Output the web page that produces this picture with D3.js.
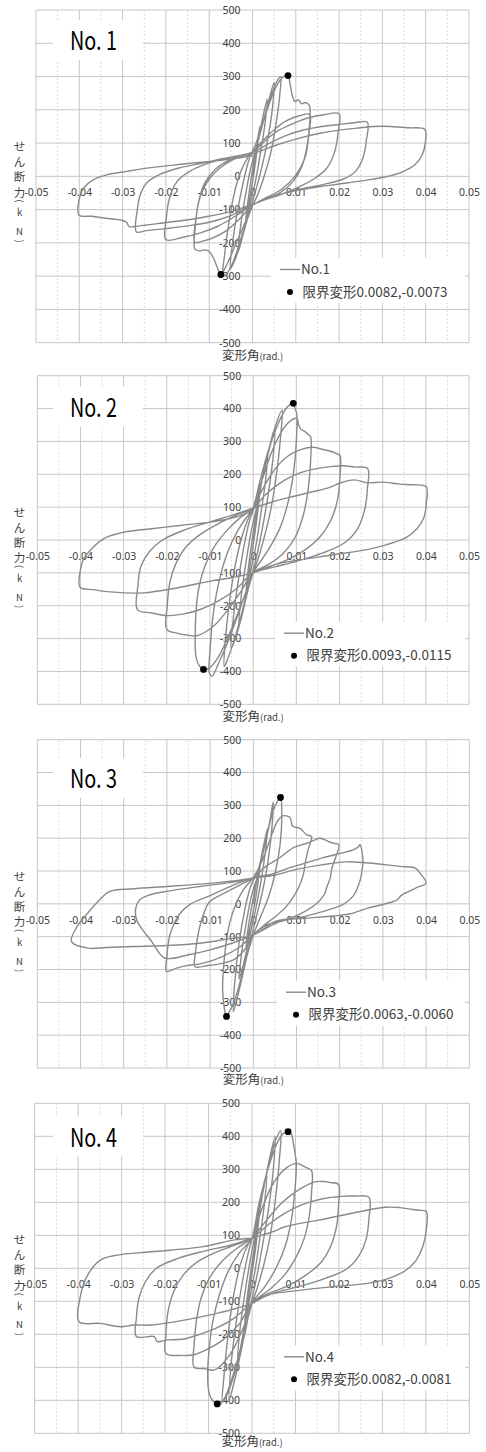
<!DOCTYPE html>
<html lang="ja">
<head>
<meta charset="utf-8">
<title>せん断力-変形角</title>
<script src="https://cdn.jsdelivr.net/npm/d3@7"></script>
<style>
  body { margin: 0; background: #fff; }
  svg { display: block; }
</style>
</head>
<body>
<script>
// axis ticks
const xTicks = [-0.05, -0.04, -0.03, -0.02, -0.01, 0, 0.01, 0.02, 0.03, 0.04, 0.05]
const xMinorTicks = [-0.045, -0.035, -0.025, -0.015, -0.005, 0.005, 0.015, 0.025, 0.035, 0.045]
const yTicks = [-500, -400, -300, -200, -100, 0, 100, 200, 300, 400, 500]

const names = ["No.1", "No.2", "No.3", "No.4"]
const titles = ["No. 1", "No. 2", "No. 3", "No. 4"]
const limitLabels = ["限界変形0.0082,-0.0073", "限界変形0.0093,-0.0115", "限界変形0.0063,-0.0060", "限界変形0.0082,-0.0081"]
const limitPoints = [
    [[0.0082, 303], [-0.0073, -295]],
    [[0.0093, 416], [-0.0115, -394]],
    [[0.0063, 324], [-0.0062, -343]],
    [[0.0083, 414], [-0.008, -411]]
]

// [変形角 rad, せん断力 kN]
const no1 = [
    [0,0],[0.0008,80],[0.0017,150],[0.0012,95],[0.0004,15],[-0.0006,-65],[-0.0017,-150],[-0.0012,-90],[-0.0004,-15],[0.0004,50],
    [0.0015,120],[0.0025,185],[0.0034,232],[0.0029,160],[0.0019,75],[0.0006,-20],[-0.0008,-95],[-0.0022,-175],[-0.0033,-228],[-0.0028,-155],[-0.0018,-70],[-0.0004,25],
    [0.001,90],[0.0025,165],[0.004,240],[0.005,282],[0.0046,205],[0.0035,110],[0.0022,30],[0.0008,-40],[-0.0008,-110],[-0.0025,-190],[-0.004,-250],[-0.0051,-278],[-0.0046,-200],[-0.0034,-100],[-0.002,-10],[-0.0008,50],
    [0.001,105],[0.0025,165],[0.004,228],[0.0055,282],[0.0065,300],[0.0063,245],[0.0054,155],[0.0042,70],[0.0028,5],[0.0012,-55],[0,-88],[-0.0015,-140],[-0.003,-200],[-0.0045,-258],[-0.006,-293],[-0.0068,-300],[-0.0064,-232],[-0.0054,-135],[-0.0041,-45],[-0.0026,18],[-0.001,58],[0,74],
    [0.0015,125],[0.003,185],[0.0045,240],[0.006,282],[0.0072,300],[0.0082,303],[0.0087,275],[0.0093,238],[0.0098,225],[0.0106,230],[0.0114,218],[0.0122,222],[0.0131,214],[0.0132,160],[0.0126,90],[0.0114,30],[0.0094,-15],[0.0065,-48],[0.0033,-68],[0,-88],[-0.002,-148],[-0.004,-208],[-0.0058,-262],[-0.0073,-295],[-0.0079,-282],[-0.0086,-258],[-0.0094,-236],[-0.0102,-224],[-0.0112,-221],[-0.0122,-224],[-0.0133,-219],[-0.0132,-150],[-0.0125,-80],[-0.0111,-22],[-0.0085,22],[-0.0055,48],[-0.0025,63],[0,74],
    [0.002,102],[0.005,140],[0.008,168],[0.0108,182],[0.0132,186],[0.013,125],[0.0121,55],[0.0098,0],[0.0068,-38],[0.0035,-62],[0,-87],[-0.003,-128],[-0.006,-163],[-0.009,-184],[-0.0113,-194],[-0.0133,-198],[-0.0131,-132],[-0.0121,-62],[-0.0098,-5],[-0.0065,35],[-0.0032,58],[0,72],
    [0.003,108],[0.006,138],[0.01,162],[0.013,176],[0.0165,185],[0.02,188],[0.0198,135],[0.019,75],[0.0172,25],[0.0145,-5],[0.011,-30],[0.0065,-55],[0.003,-70],[0,-86],[-0.004,-120],[-0.008,-150],[-0.012,-170],[-0.016,-183],[-0.02,-190],[-0.0199,-125],[-0.0191,-62],[-0.0174,-15],[-0.0145,15],[-0.0105,38],[-0.006,55],[-0.003,63],[0,72],
    [0.004,100],[0.008,124],[0.012,140],[0.016,150],[0.02,156],[0.0235,161],[0.0265,163],[0.0263,108],[0.0255,55],[0.0238,15],[0.021,-8],[0.0165,-24],[0.011,-38],[0.0055,-58],[0,-85],[-0.005,-118],[-0.01,-138],[-0.015,-149],[-0.02,-157],[-0.0245,-163],[-0.0268,-167],[-0.0266,-100],[-0.0258,-50],[-0.0243,-18],[-0.0215,5],[-0.017,25],[-0.0115,40],[-0.006,55],[0,68],
    [0.005,92],[0.01,112],[0.015,128],[0.02,139],[0.025,146],[0.028,150],[0.032,150],[0.036,146],[0.0398,141],[0.0399,100],[0.0392,65],[0.0375,35],[0.0345,13],[0.0305,-2],[0.026,-12],[0.02,-23],[0.015,-32],[0.01,-43],[0.005,-60],[0,-84],[-0.005,-106],[-0.011,-122],[-0.017,-134],[-0.022,-142],[-0.027,-150],[-0.0285,-151],[-0.0291,-138],[-0.031,-130],[-0.034,-126],[-0.037,-120],[-0.0401,-116],[-0.0399,-62],[-0.039,-35],[-0.037,-12],[-0.0335,5],[-0.029,15],[-0.023,27],[-0.016,37],[-0.01,45],[-0.005,52],[0,62]
]

const no2 = [
    [0,0],[0.0009,90],[0.0017,170],[0.0012,100],[0.0004,20],[-0.0006,-70],[-0.0017,-165],[-0.0012,-95],[-0.0004,-15],[0.0004,55],
    [0.0015,140],[0.0025,215],[0.0034,270],[0.0029,185],[0.0019,90],[0.0006,-20],[-0.0008,-110],[-0.0022,-200],[-0.0033,-260],[-0.0028,-175],[-0.0018,-80],[-0.0004,30],
    [0.001,110],[0.0025,210],[0.004,295],[0.005,340],[0.0046,250],[0.0035,140],[0.0022,40],[0.0008,-50],[-0.0008,-130],[-0.0025,-225],[-0.004,-295],[-0.0051,-330],[-0.0046,-240],[-0.0034,-120],[-0.002,-10],[-0.0008,60],
    [0.001,125],[0.0025,210],[0.004,290],[0.0055,360],[0.0067,396],[0.0064,320],[0.0055,210],[0.0042,100],[0.0028,20],[0.0012,-55],[0,-100],[-0.0015,-165],[-0.003,-240],[-0.0045,-310],[-0.006,-365],[-0.0067,-385],[-0.0064,-300],[-0.0055,-190],[-0.0042,-80],[-0.0026,10],[-0.001,70],[0,97],
    [0.0015,175],[0.003,250],[0.0045,310],[0.006,360],[0.0075,398],[0.0086,413],[0.0093,416],[0.0097,400],[0.0101,384],[0.01,300],[0.0093,200],[0.0078,100],[0.006,30],[0.0035,-30],[0.0012,-75],[0,-100],[-0.002,-170],[-0.004,-245],[-0.006,-315],[-0.008,-375],[-0.0095,-414],[-0.0101,-408],[-0.0099,-320],[-0.0092,-220],[-0.0078,-120],[-0.006,-40],[-0.0035,30],[-0.0012,75],[0,97],
    [0.002,180],[0.005,290],[0.008,355],[0.0101,370],[0.0105,352],[0.011,338],[0.012,330],[0.0127,322],[0.0133,315],[0.0133,240],[0.0128,160],[0.0117,80],[0.0098,10],[0.007,-40],[0.0035,-75],[0,-100],[-0.002,-170],[-0.005,-270],[-0.008,-355],[-0.0102,-390],[-0.0115,-394],[-0.0126,-380],[-0.0133,-350],[-0.0134,-280],[-0.0132,-210],[-0.0125,-140],[-0.0112,-80],[-0.009,-20],[-0.006,30],[-0.003,68],[0,97],
    [0.002,150],[0.005,215],[0.008,255],[0.011,275],[0.0141,282],[0.016,276],[0.018,270],[0.0195,262],[0.0201,258],[0.0201,190],[0.0195,120],[0.018,60],[0.0155,10],[0.012,-30],[0.008,-60],[0.004,-80],[0,-100],[-0.003,-160],[-0.006,-215],[-0.009,-260],[-0.0115,-283],[-0.0133,-292],[-0.015,-290],[-0.0175,-284],[-0.02,-272],[-0.0199,-200],[-0.0193,-130],[-0.018,-75],[-0.0158,-25],[-0.0125,15],[-0.008,50],[-0.004,75],[0,97],
    [0.003,140],[0.007,180],[0.011,205],[0.015,218],[0.0185,224],[0.021,226],[0.0235,222],[0.0265,218],[0.0265,160],[0.0258,90],[0.024,30],[0.021,-10],[0.016,-40],[0.01,-65],[0.005,-82],[0,-100],[-0.004,-150],[-0.008,-185],[-0.012,-210],[-0.016,-225],[-0.02,-230],[-0.0235,-222],[-0.0268,-212],[-0.0267,-140],[-0.026,-80],[-0.024,-35],[-0.021,0],[-0.016,30],[-0.01,55],[-0.005,75],[0,97],
    [0.005,118],[0.0095,133],[0.0135,146],[0.0172,158],[0.0205,175],[0.0234,183],[0.0265,174],[0.03,176],[0.034,170],[0.037,168],[0.0401,162],[0.0401,110],[0.0396,70],[0.038,35],[0.0355,8],[0.031,-14],[0.026,-30],[0.02,-42],[0.015,-52],[0.01,-62],[0.005,-75],[0,-100],[-0.005,-115],[-0.0099,-125],[-0.0177,-146],[-0.0254,-161],[-0.033,-158],[-0.037,-151],[-0.0401,-144],[-0.04,-90],[-0.0393,-58],[-0.0375,-28],[-0.0345,5],[-0.0295,25],[-0.023,35],[-0.0165,45],[-0.0095,55],[-0.004,70],[0,90]
]

const no3 = [
    [0,0],[0.0008,70],[0.0017,130],[0.0012,75],[0.0004,5],[-0.0006,-60],[-0.0017,-130],[-0.0012,-75],[-0.0004,-10],[0.0004,45],
    [0.0015,120],[0.0025,185],[0.0033,230],[0.0028,160],[0.0018,70],[0.0005,-20],[-0.0008,-95],[-0.0022,-180],[-0.0033,-230],[-0.0028,-160],[-0.0018,-70],[-0.0004,25],
    [0.001,85],[0.0025,170],[0.0038,250],[0.0046,310],[0.0043,230],[0.0033,120],[0.002,30],[0.0007,-40],[-0.001,-130],[-0.0025,-220],[-0.0038,-290],[-0.0046,-328],[-0.0043,-240],[-0.0033,-120],[-0.002,-20],[-0.0007,50],
    [0.001,100],[0.003,200],[0.0045,280],[0.0055,310],[0.0063,324],[0.0066,268],[0.0062,180],[0.005,90],[0.0035,20],[0.0015,-45],[0,-95],[-0.0015,-160],[-0.003,-235],[-0.0045,-300],[-0.0056,-330],[-0.0062,-343],[-0.0068,-310],[-0.0071,-260],[-0.007,-215],[-0.0065,-140],[-0.0055,-60],[-0.004,0],[-0.0022,45],[0,80],
    [0.002,130],[0.004,200],[0.0055,250],[0.0068,268],[0.0085,263],[0.0091,236],[0.0108,230],[0.0124,210],[0.0135,205],[0.0128,170],[0.0121,130],[0.0116,90],[0.0105,50],[0.0092,20],[0.0075,-10],[0.005,-40],[0.0025,-65],[0,-95],[-0.002,-140],[-0.0045,-170],[-0.0075,-182],[-0.0105,-188],[-0.0135,-191],[-0.0134,-150],[-0.013,-110],[-0.0124,-70],[-0.0116,-35],[-0.0102,5],[-0.0064,35],[-0.003,58],[0,80],
    [0.003,115],[0.0063,142],[0.0094,172],[0.0125,185],[0.0143,195],[0.0154,200],[0.0174,190],[0.0185,185],[0.0198,180],[0.019,139],[0.0182,110],[0.0178,78],[0.017,50],[0.0165,30],[0.015,5],[0.011,-30],[0.0072,-50],[0.003,-65],[0,-95],[-0.003,-130],[-0.007,-160],[-0.012,-182],[-0.0154,-188],[-0.0178,-196],[-0.0201,-206],[-0.02,-160],[-0.0194,-100],[-0.0185,-65],[-0.017,-30],[-0.0145,0],[-0.01,25],[-0.005,55],[0,80],
    [0.004,90],[0.008,108],[0.012,124],[0.016,140],[0.0195,152],[0.0224,161],[0.0242,172],[0.0247,180],[0.0254,129],[0.0252,105],[0.0249,80],[0.0243,55],[0.0232,25],[0.021,0],[0.017,-20],[0.012,-38],[0.006,-55],[0,-95],[-0.005,-120],[-0.01,-140],[-0.015,-155],[-0.0205,-165],[-0.0235,-115],[-0.027,-49],[-0.0272,-13],[-0.0263,12],[-0.024,27],[-0.0201,38],[-0.0124,53],[-0.0046,66],[0,78],
    [0.005,88],[0.01,105],[0.0155,118],[0.0216,128],[0.026,125],[0.03,120],[0.034,114],[0.0375,109],[0.0385,95],[0.04,63],[0.0379,50],[0.036,38],[0.0342,25],[0.0333,12],[0.03,-2],[0.0265,-13],[0.0225,-30],[0.0185,-37],[0.012,-44],[0.0054,-52],[0,-95],[-0.005,-105],[-0.0124,-120],[-0.02,-127],[-0.0278,-130],[-0.034,-133],[-0.0382,-135],[-0.0421,-115],[-0.041,-74],[-0.0387,-34],[-0.0356,12],[-0.0332,38],[-0.0278,46],[-0.02,53],[-0.0124,60],[-0.0046,70],[0,78]
]

const no4 = [
    [0,0],[0.0009,90],[0.0017,170],[0.0012,100],[0.0004,20],[-0.0006,-70],[-0.0017,-170],[-0.0012,-100],[-0.0004,-20],[0.0004,50],
    [0.0015,150],[0.0025,230],[0.0034,285],[0.0029,200],[0.0019,100],[0.0006,-15],[-0.0008,-110],[-0.0022,-210],[-0.0033,-280],[-0.0028,-190],[-0.0018,-90],[-0.0004,25],
    [0.001,120],[0.0025,230],[0.004,330],[0.0053,399],[0.0049,300],[0.0037,170],[0.0023,60],[0.0008,-45],[-0.0008,-140],[-0.0025,-250],[-0.004,-340],[-0.0052,-395],[-0.0048,-290],[-0.0036,-160],[-0.0022,-40],[-0.0008,50],
    [0.001,140],[0.0025,240],[0.004,320],[0.0055,390],[0.0066,417],[0.0063,330],[0.0054,210],[0.0042,100],[0.0028,15],[0.0012,-60],[0,-106],[-0.0015,-180],[-0.003,-260],[-0.0045,-330],[-0.006,-385],[-0.0068,-405],[-0.0064,-320],[-0.0055,-200],[-0.0042,-80],[-0.0026,15],[-0.001,70],[0,91],
    [0.0015,190],[0.003,270],[0.0045,335],[0.006,385],[0.0072,408],[0.0083,414],[0.009,409],[0.0095,380],[0.0099,348],[0.0102,320],[0.0099,240],[0.0091,150],[0.0077,70],[0.0057,5],[0.003,-55],[0,-106],[-0.0015,-190],[-0.003,-270],[-0.0045,-340],[-0.006,-390],[-0.0072,-410],[-0.008,-411],[-0.0094,-394],[-0.01,-369],[-0.0102,-318],[-0.0099,-250],[-0.009,-160],[-0.0075,-80],[-0.0055,-10],[-0.003,45],[0,91],
    [0.002,170],[0.005,260],[0.008,305],[0.0103,318],[0.0115,312],[0.0125,305],[0.0137,296],[0.0137,230],[0.0132,160],[0.012,90],[0.01,30],[0.0075,-20],[0.004,-65],[0,-106],[-0.002,-180],[-0.005,-260],[-0.0086,-308],[-0.011,-304],[-0.0133,-300],[-0.0133,-230],[-0.0128,-160],[-0.0117,-90],[-0.0098,-30],[-0.007,20],[-0.0035,60],[0,91],
    [0.003,140],[0.007,200],[0.011,240],[0.0145,262],[0.0165,263],[0.018,260],[0.0199,254],[0.0199,190],[0.0195,130],[0.0182,70],[0.016,20],[0.0125,-20],[0.008,-55],[0.004,-75],[0,-106],[-0.003,-170],[-0.007,-220],[-0.011,-250],[-0.0133,-262],[-0.016,-264],[-0.0198,-258],[-0.0198,-200],[-0.0193,-130],[-0.018,-70],[-0.0158,-20],[-0.0125,20],[-0.008,50],[-0.004,70],[0,91],
    [0.004,135],[0.008,170],[0.012,195],[0.016,210],[0.0205,218],[0.0238,219],[0.0269,215],[0.0269,150],[0.0263,90],[0.0247,40],[0.022,0],[0.017,-30],[0.011,-55],[0.005,-75],[0,-106],[-0.004,-150],[-0.008,-180],[-0.012,-200],[-0.016,-215],[-0.0195,-217],[-0.0218,-222],[-0.0225,-207],[-0.0266,-207],[-0.0266,-150],[-0.026,-90],[-0.0245,-40],[-0.022,0],[-0.017,30],[-0.011,52],[-0.005,70],[0,91],
    [0.005,112],[0.0076,126],[0.0153,146],[0.023,167],[0.0307,185],[0.034,184],[0.036,180],[0.0384,176],[0.0401,172],[0.0401,116],[0.0393,66],[0.0378,25],[0.0355,-5],[0.0316,-30],[0.027,-45],[0.019,-55],[0.0114,-66],[0.0037,-81],[0,-106],[-0.0079,-136],[-0.0156,-157],[-0.0233,-172],[-0.0272,-172],[-0.0303,-177],[-0.0349,-167],[-0.0398,-162],[-0.0395,-86],[-0.038,-25],[-0.0349,25],[-0.031,40],[-0.0232,50],[-0.0116,65],[-0.004,86],[0,91]
]

const series = [no1, no2, no3, no4]

// layout of the four stacked panels (px)
const panelTop = [10, 375.7, 739.7, 1103.3]
const panelH = [332.7, 328.6, 328.3, 330]
const panelL = [36, 37.3, 37.3, 34.7]
const panelR = [469, 469, 469.3, 469.3]
const titleBase = [40, 41, 48.3, 43.3]
const legendTop = [248, 246, 241, 242]
const legendX = [280, 284, 286, 284]
const xTitleGap = [17, 17, 16.5, 13]

const lineColor = "#8a8a8a"
const gridColor = "#c6c6c6"
const textColor = "#404040"
const jpFont = "'Noto Sans CJK JP', 'Noto Sans', sans-serif"
const numFont = "'Noto Sans', 'Open Sans', sans-serif"

const svg = d3.select("body").append("svg")
    .attr("width", 486)
    .attr("height", 1452)

// vertical axis title, one glyph per row
const yTitleChars = ["せ", "ん", "断", "力", "(", "k", "N", ")"]
const yTitleRows = [137, 152, 167, 182.5, 191, 203, 221.5, 231]

series.forEach((data, i) => {
    const h = panelH[i]
    const g = svg.append("g").attr("transform", `translate(0,${panelTop[i]})`)

    const x = d3.scaleLinear().domain([-0.05, 0.05]).range([panelL[i], panelR[i]])
    const y = d3.scaleLinear().domain([-500, 500]).range([h, 0])

    // minor vertical gridlines (dashed)
    g.append("g")
        .selectAll("line")
        .data(xMinorTicks)
        .join("line")
        .attr("x1", d => x(d)).attr("x2", d => x(d))
        .attr("y1", 0).attr("y2", h)
        .attr("stroke", "#dadada")
        .attr("stroke-dasharray", "2,2")

    // major gridlines
    g.append("g")
        .selectAll("line")
        .data(xTicks)
        .join("line")
        .attr("x1", d => x(d)).attr("x2", d => x(d))
        .attr("y1", 0).attr("y2", h)
        .attr("stroke", gridColor)

    g.append("g")
        .selectAll("line")
        .data(yTicks)
        .join("line")
        .attr("x1", x(-0.05)).attr("x2", x(0.05))
        .attr("y1", d => y(d)).attr("y2", d => y(d))
        .attr("stroke", gridColor)

    // title box
    g.append("rect")
        .attr("x", 53).attr("y", titleBase[i] - 30)
        .attr("width", 90).attr("height", 40)
        .attr("fill", "#fff")
    g.append("text")
        .attr("x", 70).attr("y", titleBase[i])
        .attr("font-family", jpFont)
        .attr("font-size", 25)
        .attr("textLength", 47)
        .attr("lengthAdjust", "spacingAndGlyphs")
        .attr("fill", "#000")
        .text(titles[i])

    // tick labels, crossing at 0
    const xAxis = g.append("g")
        .attr("transform", `translate(0,${y(0)})`)
        .call(d3.axisBottom(x).tickValues(xTicks).tickSize(0).tickPadding(12.5).tickFormat(d => String(d)))
    xAxis.select(".domain").remove()
    xAxis.attr("font-family", numFont).attr("font-size", 10.5)
    xAxis.selectAll("text").attr("fill", textColor)

    const yAxis = g.append("g")
        .attr("transform", `translate(${x(0)},0)`)
        .call(d3.axisLeft(y).tickValues(yTicks).tickSize(0).tickPadding(12).tickFormat(d => String(d)))
    yAxis.select(".domain").remove()
    yAxis.attr("font-family", numFont).attr("font-size", 10.5)
    yAxis.selectAll("text").attr("fill", textColor)

    // axis titles
    const xt = g.append("text")
        .attr("x", x(0)).attr("y", h + xTitleGap[i])
        .attr("text-anchor", "middle")
        .attr("font-family", jpFont)
        .attr("fill", textColor)
    xt.append("tspan").attr("font-size", 12.5).text("変形角")
    xt.append("tspan").attr("font-size", 9.5).text("(rad.)")

    g.append("g")
        .selectAll("text")
        .data(yTitleChars)
        .join("text")
        .attr("font-family", jpFont)
        .attr("font-size", (d, k) => k < 4 ? 11.5 : 9.5)
        .attr("fill", textColor)
        .attr("text-anchor", "middle")
        .attr("dy", "0.35em")
        .attr("transform", (d, k) => (d === "(" || d === ")")
            ? `translate(19.5,${yTitleRows[k]}) rotate(90)`
            : `translate(19.5,${yTitleRows[k]})`)
        .text(d => d)

    // hysteresis curve
    const line = d3.line()
        .x(d => x(d[0]))
        .y(d => y(d[1]))
        .curve(d3.curveCatmullRom.alpha(0.5))

    g.append("path")
        .datum(data)
        .attr("fill", "none")
        .attr("stroke", lineColor)
        .attr("stroke-width", 1.4)
        .attr("stroke-linejoin", "round")
        .attr("d", line)

    // limit deformation points
    g.append("g")
        .selectAll("circle")
        .data(limitPoints[i])
        .join("circle")
        .attr("cx", d => x(d[0]))
        .attr("cy", d => y(d[1]))
        .attr("r", 3.4)
        .attr("fill", "#000")

    // legend
    const lx = legendX[i]
    const lt = legendTop[i]
    const legend = g.append("g")
    legend.append("rect")
        .attr("x", lx - 9).attr("y", lt)
        .attr("width", 465 - (lx - 9)).attr("height", 45)
        .attr("fill", "#fff")
    legend.append("line")
        .attr("x1", lx).attr("x2", lx + 20)
        .attr("y1", lt + 11.5).attr("y2", lt + 11.5)
        .attr("stroke", lineColor)
        .attr("stroke-width", 1.4)
    legend.append("text")
        .attr("x", lx + 21).attr("y", lt + 11.5)
        .attr("dy", "0.35em")
        .attr("font-family", jpFont)
        .attr("font-size", 13.5)
        .attr("fill", textColor)
        .text(names[i])
    legend.append("circle")
        .attr("cx", lx + 10).attr("cy", lt + 34)
        .attr("r", 3)
        .attr("fill", "#000")
    legend.append("text")
        .attr("x", lx + 22.5).attr("y", lt + 34)
        .attr("dy", "0.35em")
        .attr("font-family", jpFont)
        .attr("font-size", 13.5)
        .attr("fill", textColor)
        .text(limitLabels[i])
})
</script>
</body>
</html>
